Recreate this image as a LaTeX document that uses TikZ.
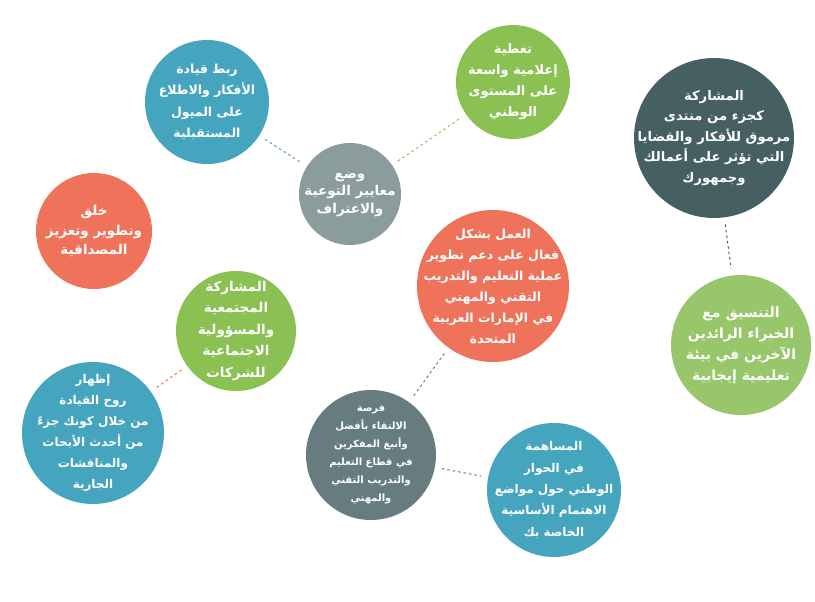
\documentclass[tikz,border=0pt]{standalone}
\usepackage{fontspec}
\newfontfamily\arabicfont[Script=Arabic]{DejaVu Sans}
\TeXXeTstate=1
\definecolor{bubbleblue}{HTML}{45A5BE}
\definecolor{bubblegreen}{HTML}{8BC152}
\definecolor{bubblelime}{HTML}{97C76A}
\definecolor{bubbleslate}{HTML}{465F63}
\definecolor{bubblegray}{HTML}{8A9D9C}
\definecolor{bubbledark}{HTML}{677C7E}
\definecolor{bubbleorange}{HTML}{EE735A}
\begin{document}
\begin{tikzpicture}[x=1pt, y=-1pt,
    bubble/.style={circle, fill=#1, inner sep=0pt},
    txt/.style 2 args={font=\arabicfont\bfseries\fontsize{#1}{#2}\selectfont, text=white, align=center, inner sep=0pt},
    link/.style={draw=#1, line width=1pt, dash pattern=on 2.5pt off 3pt, shorten <=7pt, shorten >=7pt}]
        \useasboundingbox (0,0) rectangle (815,602);
        \node[bubble=bubbleblue, minimum size=124pt, label={[txt={12.5}{21.5}]center:{\beginR ربط قيادة\endR\\\beginR الأفكار والاطلاع\endR\\\beginR على الميول\endR\\\beginR المستقبلية\endR}}] (lead) at (207,102) {};
        \node[bubble=bubblegreen, minimum size=114pt, label={[txt={13}{21}]center:{\beginR تغطية\endR\\\beginR إعلامية واسعة\endR\\\beginR على المستوى\endR\\\beginR الوطني\endR}}] (media) at (513,82) {};
        \node[bubble=bubbleslate, minimum size=160pt, label={[txt={13.2}{20.5}]center:{\beginR المشاركة\endR\\\beginR كجزء من منتدى\endR\\\beginR مرموق للأفكار والقضايا\endR\\\beginR التي تؤثر على أعمالك\endR\\\beginR وجمهورك\endR}}] (forum) at (714,138) {};
        \node[bubble=bubblegray, minimum size=102pt, label={[txt={13.5}{17.5}]center:{\beginR وضع\endR\\\beginR معايير التوعية\endR\\\beginR والاعتراف\endR}}] (award) at (350,194) {};
        \node[bubble=bubbleorange, minimum size=116pt, label={[txt={13.5}{19.5}]center:{\beginR خلق\endR\\\beginR وتطوير وتعزيز\endR\\\beginR المصداقية\endR}}] (trust) at (94,231) {};
        \node[bubble=bubbleorange, minimum size=152pt, label={[txt={12.5}{21}]center:{\beginR العمل بشكل\endR\\\beginR فعال على دعم تطوير\endR\\\beginR عملية التعليم والتدريب\endR\\\beginR التقني والمهني\endR\\\beginR في الإمارات العربية\endR\\\beginR المتحدة\endR}}] (tvet) at (493,286) {};
        \node[bubble=bubblegreen, minimum size=120pt, label={[txt={13.5}{21.5}]center:{\beginR المشاركة\endR\\\beginR المجتمعية\endR\\\beginR والمسؤولية\endR\\\beginR الاجتماعية\endR\\\beginR للشركات\endR}}] (csr) at (236,331) {};
        \node[bubble=bubblelime, minimum size=140pt, label={[txt={14}{21}]center:{\beginR التنسيق مع\endR\\\beginR الخبراء الرائدين\endR\\\beginR الآخرين في بيئة\endR\\\beginR تعليمية إيجابية\endR}}] (experts) at (741,345) {};
        \node[bubble=bubbleblue, minimum size=142pt, label={[txt={12}{21}]center:{\beginR إظهار\endR\\\beginR روح القيادة\endR\\\beginR من خلال كونك جزءً\endR\\\beginR من أحدث الأبحاث\endR\\\beginR والمناقشات\endR\\\beginR الجارية\endR}}] (research) at (93,433) {};
        \node[bubble=bubbledark, minimum size=130pt, label={[txt={10}{18}]center:{\beginR فرصة\endR\\\beginR الالتقاء بأفضل\endR\\\beginR وأنبغ المفكرين\endR\\\beginR في قطاع التعليم\endR\\\beginR والتدريب التقني\endR\\\beginR والمهني\endR}}] (meet) at (371,455) {};
        \node[bubble=bubbleblue, minimum size=134pt, label={[txt={12}{21.3}]center:{\beginR المساهمة\endR\\\beginR في الحوار\endR\\\beginR الوطني حول مواضع\endR\\\beginR الاهتمام الأساسية\endR\\\beginR الخاصة بك\endR}}] (dialog) at (554,490) {};
        \draw[link=bubbleblue] (lead) -- (award);
        \draw[link=bubblegreen] (award) -- (media);
        \draw[link=bubbleslate] (forum) -- (experts);
        \draw[link=bubbledark] (tvet) -- (meet);
        \draw[link=bubbledark] (meet) -- (dialog);
        \draw[link=bubbleorange] (csr) -- (research);
    \end{tikzpicture}
\end{document}
